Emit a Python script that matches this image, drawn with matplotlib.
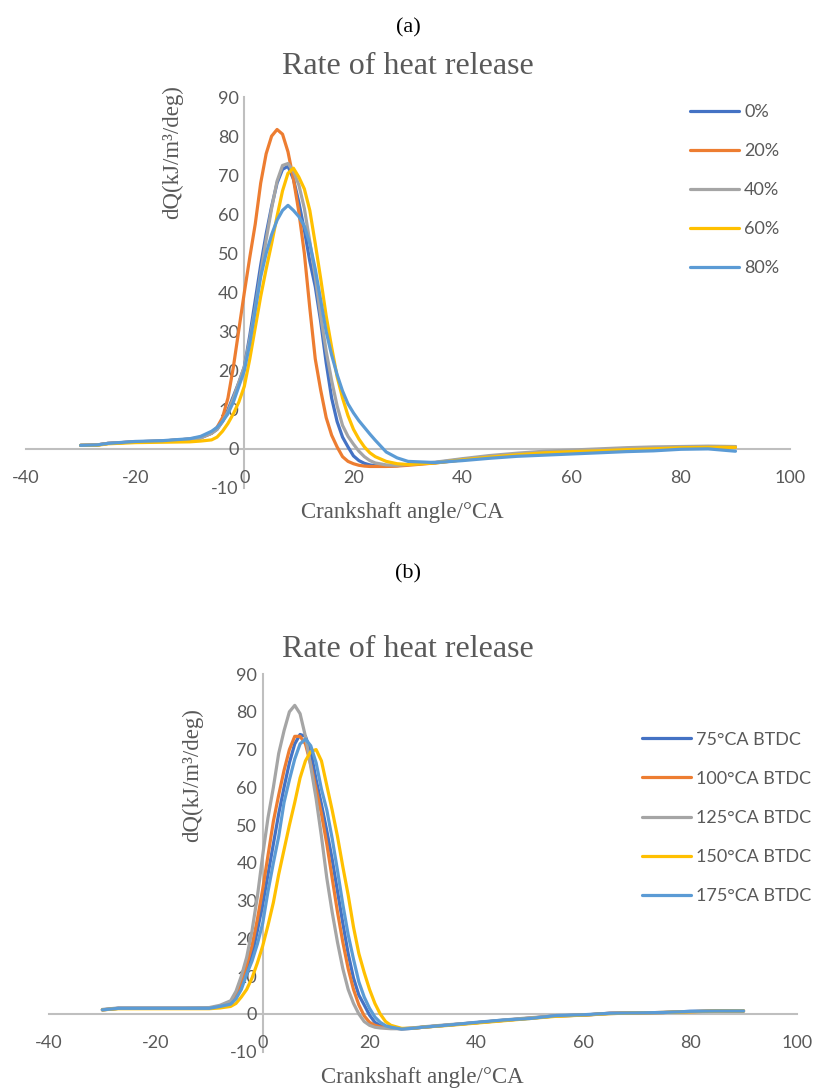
#!/usr/bin/env python3
"""Rate of heat release, two stacked Excel-style panels (a) and (b)."""
import matplotlib
matplotlib.use("Agg")
import matplotlib.pyplot as plt

# ---------------------------------------------------------------------------
# Data
# ---------------------------------------------------------------------------

# crank angle grid shared by all series, deg CA
angles = [-30, -27, -25, -20, -15, -10, -8, -6,
          -5, -4, -3, -2, -1, 0, 1, 2, 3, 4, 5, 6, 7, 8, 9,
          10, 11, 12, 13, 14, 15, 16, 17, 18, 19, 20, 21, 22, 23, 24,
          26, 28, 30, 35, 40, 45, 50, 55, 60, 65, 70, 75, 80, 85, 90]

# panel (a)
labels_a = ["0%", "20%", "40%", "60%", "80%"]
rohr_a_0 = [0.9, 1.0, 1.4, 1.8, 2.0, 2.5, 2.8, 4.0,
            5.0, 7.0, 10.0, 13.5, 17.0, 21.0, 29.0, 38.0, 47.0, 55.0, 62.0, 68.0, 71.5, 72.3, 69.0,
            63.0, 56.0, 48.0, 41.5, 32.5, 22.0, 13.0, 7.0, 3.0, 0.5, -1.8, -3.0, -3.7, -4.1, -4.3,
            -4.4, -4.3, -4.0, -3.5, -2.7, -1.9, -1.4, -1.0, -0.6, -0.3, 0.0, 0.2, 0.4, 0.5, 0.5]
rohr_a_20 = [0.9, 1.0, 1.4, 1.8, 2.0, 2.5, 3.0, 4.0,
             5.5, 8.0, 13.0, 21.0, 30.5, 40.0, 49.0, 57.5, 68.0, 75.5, 80.0, 81.7, 80.5, 76.0, 69.0,
             60.5, 50.0, 36.0, 23.0, 15.0, 8.0, 3.5, 0.5, -2.0, -3.2, -3.8, -4.2, -4.4, -4.5, -4.5,
             -4.5, -4.4, -4.2, -3.6, -2.8, -2.0, -1.5, -1.0, -0.7, -0.4, 0.0, 0.2, 0.4, 0.5, 0.5]
rohr_a_40 = [0.9, 1.0, 1.4, 1.8, 2.0, 2.5, 2.8, 4.0,
             5.0, 7.0, 9.5, 13.0, 17.0, 21.0, 28.0, 36.0, 45.0, 53.5, 61.5, 68.5, 72.5, 73.0, 71.0,
             67.5, 61.5, 53.0, 44.0, 34.0, 25.0, 17.5, 11.0, 6.0, 3.2, 1.2, -0.6, -2.0, -3.0, -3.6,
             -4.1, -4.2, -4.0, -3.4, -2.5, -1.7, -1.1, -0.6, -0.3, 0.0, 0.3, 0.5, 0.6, 0.7, 0.6]
rohr_a_60 = [0.9, 0.9, 1.3, 1.6, 1.7, 1.8, 2.0, 2.3,
             3.0, 4.5, 6.5, 9.0, 12.0, 16.0, 23.0, 31.0, 39.0, 46.0, 52.5, 59.5, 66.0, 70.5, 71.8,
             69.5, 66.5, 61.0, 52.5, 43.5, 34.0, 26.0, 18.5, 13.0, 8.5, 5.0, 2.5, 0.5, -1.0, -2.0,
             -3.2, -3.8, -4.0, -3.6, -2.8, -2.1, -1.5, -1.0, -0.7, -0.5, -0.2, 0.0, 0.3, 0.4, 0.4]
rohr_a_80 = [0.9, 1.0, 1.4, 1.9, 2.1, 2.6, 3.2, 4.5,
             5.5, 7.0, 9.0, 12.0, 16.0, 20.0, 27.0, 35.5, 44.0, 50.0, 54.8, 58.5, 61.0, 62.3, 61.0,
             59.4, 57.0, 52.5, 46.0, 38.0, 30.0, 24.0, 19.0, 14.8, 11.5, 9.2, 7.2, 5.5, 3.8, 2.2,
             -0.8, -2.3, -3.2, -3.5, -3.0, -2.4, -1.9, -1.6, -1.3, -1.0, -0.7, -0.5, -0.1, 0.0, -0.6]

# panel (b)
labels_b = ["75°CA BTDC", "100°CA BTDC", "125°CA BTDC", "150°CA BTDC", "175°CA BTDC"]
rohr_b_75 = [1.1, 1.5, 1.5, 1.5, 1.5, 1.5, 2.0, 2.8,
             4.5, 7.5, 11.5, 15.5, 22.0, 29.0, 37.0, 45.0, 53.0, 60.0, 66.5, 71.5, 74.0, 73.5, 69.5,
             62.0, 55.5, 48.5, 41.0, 32.5, 24.0, 16.0, 9.5, 5.0, 2.4, -0.3, -2.2, -3.1, -3.5, -3.7,
             -3.9, -3.8, -3.5, -2.9, -2.3, -1.7, -1.1, -0.5, -0.3, 0.2, 0.3, 0.4, 0.7, 0.8, 0.8]
rohr_b_100 = [1.1, 1.5, 1.5, 1.5, 1.5, 1.5, 2.0, 3.0,
              5.0, 8.5, 13.0, 18.0, 25.0, 33.0, 42.0, 51.0, 58.0, 64.5, 70.0, 73.5, 73.5, 71.5, 66.0,
              59.5, 53.0, 45.0, 36.0, 27.0, 19.0, 12.0, 6.5, 2.4, -0.5, -2.2, -3.0, -3.4, -3.6, -3.7,
              -3.9, -3.8, -3.5, -2.9, -2.3, -1.7, -1.1, -0.5, -0.3, 0.2, 0.3, 0.4, 0.6, 0.8, 0.8]
rohr_b_125 = [1.2, 1.6, 1.6, 1.6, 1.6, 1.7, 2.3, 3.5,
              6.0, 10.0, 15.0, 22.0, 31.0, 42.0, 52.0, 60.0, 69.0, 75.0, 80.0, 81.7, 79.5, 73.5, 65.5,
              57.0, 47.0, 36.0, 27.0, 19.0, 12.0, 6.5, 2.8, 0.0, -2.0, -3.0, -3.5, -3.7, -3.8, -3.9,
              -3.9, -3.7, -3.4, -2.8, -2.3, -1.6, -1.0, -0.5, -0.3, 0.1, 0.3, 0.4, 0.6, 0.7, 0.8]
rohr_b_150 = [1.1, 1.4, 1.4, 1.4, 1.4, 1.4, 1.6, 2.0,
              2.8, 4.5, 6.5, 9.5, 13.5, 18.0, 23.5, 29.5, 37.0, 43.5, 50.0, 56.0, 62.5, 67.0, 69.5,
              70.0, 67.0, 60.5, 54.0, 47.0, 39.0, 31.5, 23.0, 16.0, 11.0, 6.5, 2.8, 0.0, -2.0, -3.0,
              -3.8, -3.8, -3.5, -3.0, -2.4, -1.8, -1.2, -0.6, -0.3, 0.1, 0.3, 0.4, 0.6, 0.8, 0.8]
rohr_b_175 = [1.1, 1.5, 1.5, 1.5, 1.5, 1.5, 2.0, 2.6,
              4.0, 6.5, 10.5, 14.0, 18.5, 24.0, 32.5, 40.0, 47.0, 56.0, 62.0, 67.5, 71.5, 72.8, 71.0,
              66.5, 59.5, 54.0, 46.5, 38.0, 29.0, 21.0, 14.5, 8.5, 4.5, 1.5, -0.8, -2.2, -3.1, -3.5,
              -4.0, -3.8, -3.5, -2.9, -2.2, -1.6, -1.2, -0.4, -0.2, 0.2, 0.3, 0.4, 0.7, 0.8, 0.8]

x_ticks = [-40, -20, 0, 20, 40, 60, 80, 100]
y_ticks = [-10, 0, 10, 20, 30, 40, 50, 60, 70, 80, 90]

# Excel office palette
colors = ["#4472C4", "#ED7D31", "#A5A5A5", "#FFC000", "#5B9BD5"]
TEXT_GREY = "#595959"
SERIF = "Liberation Serif"

plt.rcParams["font.family"] = ["Lato", "DejaVu Sans"]
plt.rcParams["axes.unicode_minus"] = False


# ---------------------------------------------------------------------------
# Axis setup
# ---------------------------------------------------------------------------

def setup_ax(fig, ax, series, labels, legend_xy):
    for ys, lbl, c in zip(series, labels, colors):
        ax.plot(angles, ys, color=c, lw=2.3, label=lbl, zorder=3,
                solid_joinstyle="round", solid_capstyle="round")

    ax.set_xlim(-40, 100)
    ax.set_ylim(-10, 90)
    ax.set_xticks(x_ticks)
    ax.set_yticks(y_ticks)

    for side in ("top", "right"):
        ax.spines[side].set_visible(False)
    for side in ("left", "bottom"):
        ax.spines[side].set_position(("data", 0))
        ax.spines[side].set_color("#BFBFBF")
        ax.spines[side].set_linewidth(1.5)
        ax.spines[side].set_zorder(1)

    ax.tick_params(length=0, labelsize=13, labelcolor=TEXT_GREY)
    ax.tick_params(axis="x", pad=15)
    ax.tick_params(axis="y", pad=4)
    ax.set_facecolor("none")

    ax.legend(loc="upper left", bbox_to_anchor=legend_xy,
              bbox_transform=fig.transFigure, frameon=False,
              fontsize=13, labelcolor=TEXT_GREY, handlelength=2.7,
              handletextpad=0.3, labelspacing=1.28, borderpad=0,
              borderaxespad=0)


def main():
    fig = plt.figure(figsize=(8.16, 10.88), dpi=100)

    ax_a = fig.add_axes([0.0319, 0.5515, 0.9363, 0.3593])
    ax_b = fig.add_axes([0.0600, 0.0333, 0.9167, 0.3472])

    setup_ax(fig, ax_a, [rohr_a_0, rohr_a_20, rohr_a_40, rohr_a_60, rohr_a_80],
             labels_a, (0.8456, 0.9045))
    setup_ax(fig, ax_b, [rohr_b_75, rohr_b_100, rohr_b_125, rohr_b_150, rohr_b_175],
             labels_b, (0.7868, 0.3275))

    # panel captions and titles
    fig.text(0.5, 0.974, "(a)", family=SERIF, fontsize=16, ha="center", va="center")
    fig.text(0.5, 0.939, "Rate of heat release", family=SERIF, fontsize=23,
             color=TEXT_GREY, ha="center", va="center")
    fig.text(0.5, 0.4724, "(b)", family=SERIF, fontsize=16, ha="center", va="center")
    fig.text(0.5, 0.4026, "Rate of heat release", family=SERIF, fontsize=23,
             color=TEXT_GREY, ha="center", va="center")

    # axis titles
    ylab = "dQ(kJ/m³/deg)"
    fig.text(0.212, 0.860, ylab, family=SERIF, fontsize=16.5, color=TEXT_GREY,
             rotation=90, ha="center", va="center")
    fig.text(0.2365, 0.2877, ylab, family=SERIF, fontsize=16.5, color=TEXT_GREY,
             rotation=90, ha="center", va="center")
    fig.text(0.493, 0.529, "Crankshaft angle/°CA", family=SERIF, fontsize=16.5,
             color=TEXT_GREY, ha="center", va="center")
    fig.text(0.518, 0.0101, "Crankshaft angle/°CA", family=SERIF, fontsize=16.5,
             color=TEXT_GREY, ha="center", va="center")

    fig.savefig("out.png", dpi=100)


if __name__ == "__main__":
    main()
